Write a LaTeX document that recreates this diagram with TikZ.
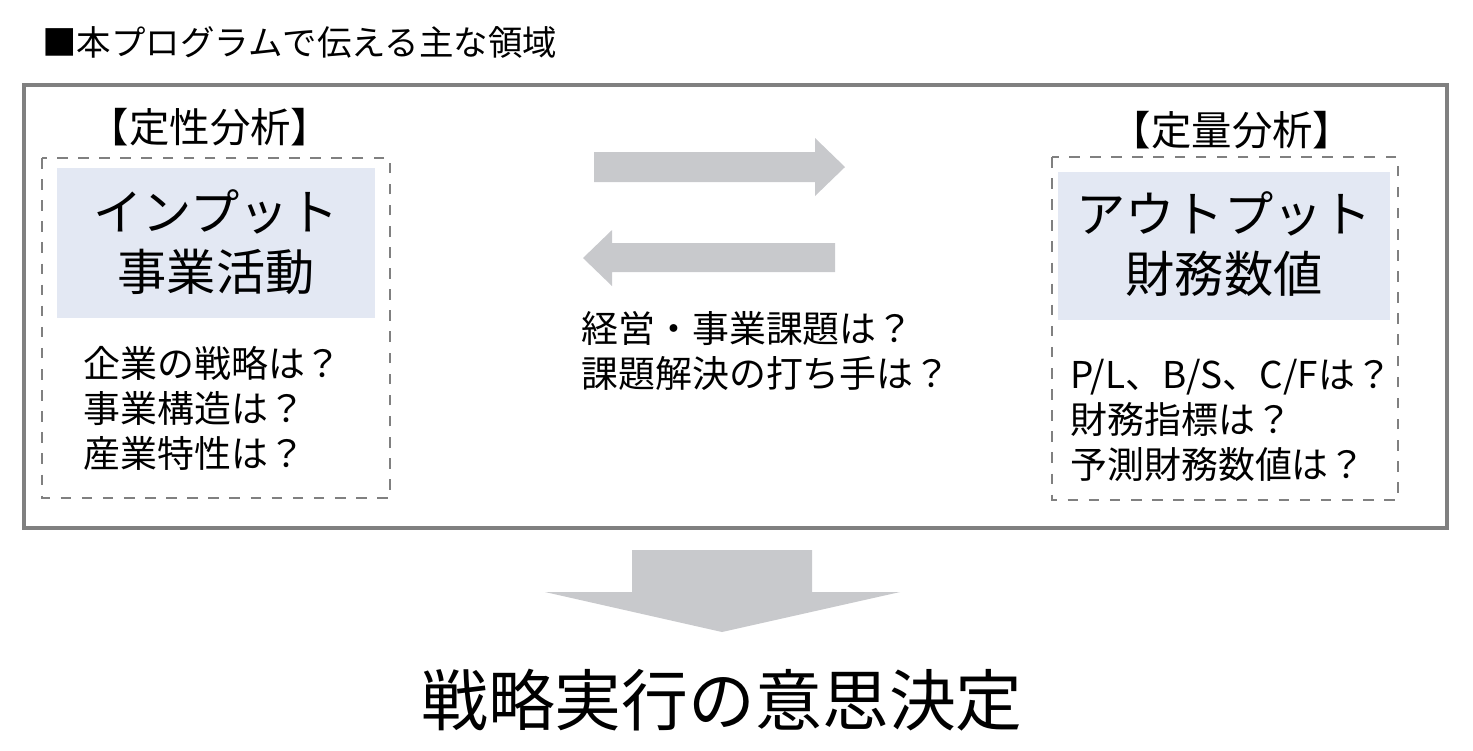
\documentclass[tikz,border=0pt]{standalone}
\usepackage{fontspec}
\setmainfont{Noto Sans CJK JP}
\usetikzlibrary{positioning}
\definecolor{boxblue}{HTML}{E3E8F3}
\definecolor{arrgray}{HTML}{C8C9CC}
\definecolor{framegray}{HTML}{808080}
\tikzset{
  dashbox/.style = {draw=framegray, dashed, line width=0.6pt},
  headtext/.style = {font=\fontsize{11.5}{13}\selectfont},
  bigtext/.style = {font=\fontsize{14}{17}\selectfont, align=center},
  itemtext/.style = {font=\fontsize{10.5}{12.8}\selectfont, align=left, anchor=north west},
}
\begin{document}
\begin{tikzpicture}[x=0.01cm, y=-0.01cm]
    \useasboundingbox (0,0) rectangle (1473,750);

    \node[anchor=west, font=\fontsize{9.8}{11}\selectfont] (title) at (30,42) {■本プログラムで伝える主な領域};
    \draw[framegray, line width=0.9pt] (24,85) rectangle (1447,528);

    % left side
    \node[headtext] (qualhead) at (210,127) {【定性分析】};
    \draw[dashbox] (42,158) rectangle (390,498);
    \fill[boxblue] (57,168) rectangle (375,318);
    \node[bigtext] (input) at (216,242) {インプット\\事業活動};
    \node[itemtext] (qualitems) at (71,334) {企業の戦略は？\\事業構造は？\\産業特性は？};

    % right side
    \node[headtext] (quanthead) at (1232,130) {【定量分析】};
    \draw[dashbox] (1052,157) rectangle (1398,500);
    \fill[boxblue] (1058,172) rectangle (1390,320);
    \node[bigtext] (output) at (1224,244) {アウトプット\\財務数値};
    \node[itemtext] (quantitems) at (1058,347) {P/L、B/S、C/Fは？\\財務指標は？\\予測財務数値は？};

    % arrows between
    \fill[arrgray] (594,152) -- (815,152) -- (815,138) -- (845,167) -- (815,196)
      -- (815,182) -- (594,182) -- cycle;
    \fill[arrgray] (835,243) -- (612,243) -- (612,230) -- (583,258) -- (612,286)
      -- (612,272) -- (835,272) -- cycle;
    \node[itemtext] (middle) at (569,299) {経営・事業課題は？\\課題解決の打ち手は？};

    % down arrow
    \fill[arrgray] (632,550) -- (812,550) -- (812,592) -- (900,592) -- (722,632)
      -- (545,592) -- (632,592) -- cycle;
    \node[font=\fontsize{19}{22}\selectfont] (decision) at (722,700) {戦略実行の意思決定};
\end{tikzpicture}
\end{document}
